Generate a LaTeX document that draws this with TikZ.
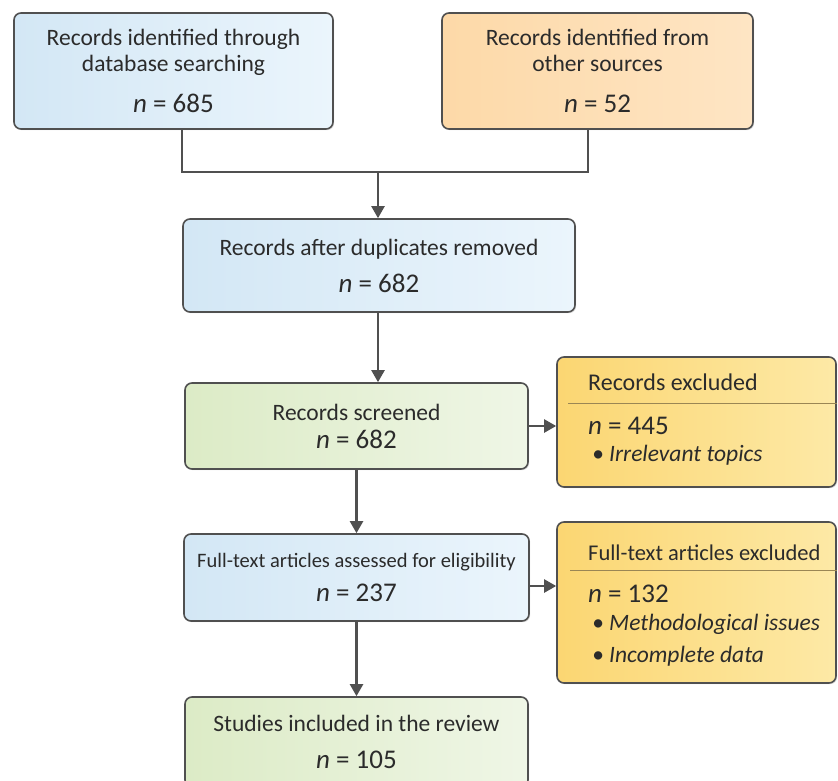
\documentclass[tikz,border=0pt]{standalone}
\usepackage{fontspec}
\setmainfont{Carlito}
\usepackage{tikz}
\usetikzlibrary{arrows.meta,shapes,positioning,shadows}
\definecolor{boxline}{HTML}{505050}
\definecolor{blueL}{HTML}{D3E7F5}
\definecolor{blueR}{HTML}{EBF5FC}
\definecolor{orangeL}{HTML}{FDD9A8}
\definecolor{orangeR}{HTML}{FEE5C4}
\definecolor{greenL}{HTML}{DCEBC6}
\definecolor{greenR}{HTML}{EFF6E6}
\definecolor{yellowL}{HTML}{FBD672}
\definecolor{yellowR}{HTML}{FDE9A6}
\definecolor{divline}{HTML}{9A8654}
\definecolor{txt}{HTML}{2B2B2B}
\newcommand{\nval}[1]{{\fontsize{27}{26}\selectfont\textit{n} = #1}}
\tikzset{
    flow box/.style={rectangle, draw=boxline, line width=1.6pt, rounded corners=7pt,
        align=center, inner sep=0pt, text=txt, font=\fontsize{23.5}{26}\selectfont,
        drop shadow={shadow xshift=1.2pt, shadow yshift=-1.2pt, opacity=0.25}},
    blue box/.style={flow box, left color=blueL, right color=blueR},
    orange box/.style={flow box, left color=orangeL, right color=orangeR},
    green box/.style={flow box, left color=greenL, right color=greenR},
    excl box/.style={flow box, left color=yellowL, right color=yellowR},
    excl text/.style={anchor=base west, inner sep=0pt, text=txt, font=\fontsize{24}{26}\selectfont},
    bullet text/.style={excl text, font=\fontsize{23.5}{26}\selectfont\itshape},
    link/.style={draw=boxline, line width=2.2pt},
    flow arrow/.style={link, -{Triangle[width=13pt,length=12pt]}}
}
\begin{document}
\begin{tikzpicture}[x=1pt, y=-1pt]
    \useasboundingbox (0,0) rectangle (838,781);
    % identification
    \node[blue box, minimum width=319pt, minimum height=116pt] (ids) at (173.5,71)
        {Records identified through\\database searching\\[15pt]\nval{685}};
    \node[orange box, minimum width=311pt, minimum height=116pt] (other) at (597.5,71)
        {Records identified from\\other sources\\[15pt]\nval{52}};
    \node[blue box, minimum width=392pt, minimum height=93pt] (dup) at (379,265.5)
        {Records after duplicates removed\\[11pt]\nval{682}};
    % screening
    \node[green box, minimum width=343pt, minimum height=86pt] (screen) at (356.5,426)
        {Records screened\\[2pt]\nval{682}};
    \node[excl box, minimum width=279pt, minimum height=130pt] (ex1) at (696.5,422) {};
    \node[blue box, minimum width=345pt, minimum height=87pt] (full) at (356.5,577.5)
        {{\fontsize{20.5}{26}\selectfont Full-text articles assessed for eligibility}\\[8pt]\nval{237}};
    \node[excl box, minimum width=279pt, minimum height=161pt] (ex2) at (696.5,602.5) {};
    \node[green box, minimum width=343pt, minimum height=90pt] (incl) at (356.5,742)
        {Studies included in the review\\[11pt]\nval{105}};
    % exclusion texts
    \node[excl text] (ex1 head) at (588,390) {Records excluded};
    \node[excl text] (ex1 n) at (588,434) {\nval{445}};
    \node[bullet text] (ex1 b1) at (592,461) {\textbullet\ Irrelevant topics};
    \node[excl text, font=\fontsize{22.5}{26}\selectfont] (ex2 head) at (588,560) {Full-text articles excluded};
    \node[excl text] (ex2 n) at (588,602) {\nval{132}};
    \node[bullet text] (ex2 b1) at (592,630) {\textbullet\ Methodological issues};
    \node[bullet text] (ex2 b2) at (592,662) {\textbullet\ Incomplete data};
    \draw[divline, line width=1pt] (568,403) -- (ex1.east |- 0,403);
    \draw[divline, line width=1pt] (570,570) -- (ex2.east |- 0,570);
    % connectors
    \coordinate (join) at (378,172);
    \draw[link] ([xshift=8.5pt]ids.south) |- (join) -| ([xshift=-9.5pt]other.south);
    \draw[flow arrow] (join) -- (join |- dup.north);
    \draw[flow arrow] (join |- dup.south) -- (join |- screen.north);
    \draw[flow arrow] (screen.east) -- (screen.east -| ex1.west);
    \draw[flow arrow] (screen.south) -- (full.north);
    \draw[flow arrow] ([yshift=-8.5pt]full.east) -- ([yshift=-8.5pt]full.east -| ex2.west);
    \draw[flow arrow] (full.south) -- (incl.north);
\end{tikzpicture}
\end{document}
